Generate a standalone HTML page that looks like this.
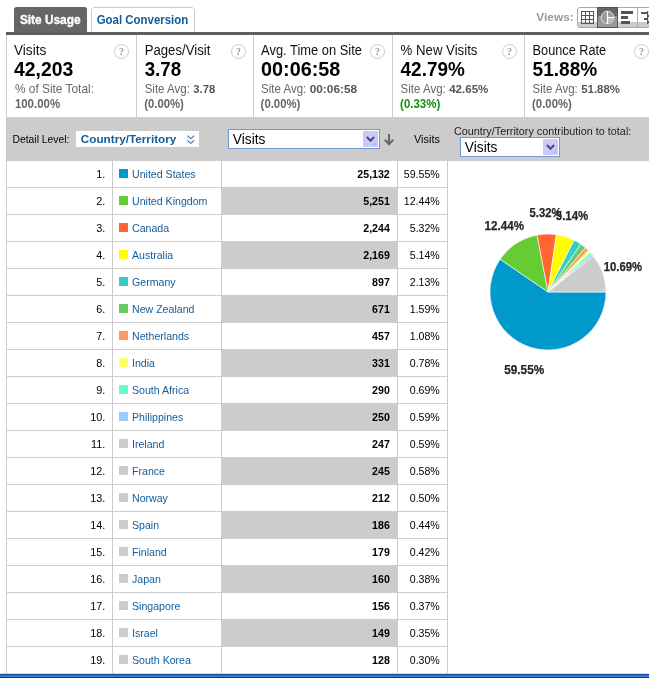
<!DOCTYPE html>
<html><head><meta charset="utf-8"><title>Site Usage</title>
<style>
html,body{margin:0;padding:0;background:#fff;width:649px;height:678px;overflow:hidden}
svg{display:block;font-family:'Liberation Sans', Arial, sans-serif;will-change:transform}
</style></head><body>
<svg width="649" height="678" viewBox="0 0 649 678">
<defs><linearGradient id="tb" x1="0" y1="0" x2="0" y2="1">
<stop offset="0" stop-color="#2457a8"/><stop offset="0.4" stop-color="#2a63c0"/><stop offset="0.7" stop-color="#3a8ae0"/><stop offset="1" stop-color="#1b3c78"/></linearGradient></defs>
<path d="M14,32 V9.5 Q14,7 16.5,7 H84.5 Q87,7 87,9.5 V32 Z" fill="#666666"/>
<path d="M91.5,32 V9.5 L93.5,7.5 H192.5 L194.5,9.5 V32" fill="#fff" stroke="#cccccc" stroke-width="1"/>
<text x="19.9" y="24" font-size="12.4" fill="#fff" font-weight="bold" textLength="60.6" lengthAdjust="spacingAndGlyphs" stroke="#fff" stroke-width="0.35">Site Usage</text>
<text x="96.7" y="24" font-size="12.2" fill="#125c9a" font-weight="bold" textLength="91.61" lengthAdjust="spacingAndGlyphs">Goal Conversion</text>
<text x="536.3" y="21" font-size="11.4" fill="#999999" font-weight="bold" textLength="37.4" lengthAdjust="spacingAndGlyphs">Views:</text>
<rect x="577.5" y="7.5" width="80" height="20" rx="2" fill="#fff" stroke="#aaaaaa"/>
<rect x="578" y="22" width="19" height="5" fill="#cccccc"/>
<rect x="618" y="22" width="19" height="5" fill="#cccccc"/>
<rect x="638" y="22" width="11" height="5" fill="#cccccc"/>
<g fill="none" stroke="#555" stroke-width="1">
<line x1="581.5" y1="11" x2="581.5" y2="24"/>
<line x1="581" y1="11.5" x2="594" y2="11.5"/>
<line x1="585.5" y1="11" x2="585.5" y2="24"/>
<line x1="581" y1="15.5" x2="594" y2="15.5"/>
<line x1="589.5" y1="11" x2="589.5" y2="24"/>
<line x1="581" y1="19.5" x2="594" y2="19.5"/>
<line x1="593.5" y1="11" x2="593.5" y2="24"/>
<line x1="581" y1="23.5" x2="594" y2="23.5"/>
</g>
<rect x="597" y="7" width="21" height="21" fill="#555555"/>
<rect x="598" y="8" width="19" height="8" fill="#666666"/>
<rect x="598" y="16" width="19" height="11" fill="#999999"/>
<circle cx="607.5" cy="17.5" r="6.3" fill="#999" stroke="#dddddd" stroke-width="1"/>
<path d="M607.5,17.5 H613.8 A6.3,6.3 0 0 1 607.5,23.8 Z" fill="#bbbbbb"/>
<path d="M607.5,11 V24 M607.5,17.5 H614" stroke="#fff" stroke-width="1.2"/>
<line x1="637.5" y1="8" x2="637.5" y2="27" stroke="#aaaaaa"/>
<rect x="621" y="11" width="12" height="3" fill="#555555"/>
<rect x="621" y="16" width="7" height="3" fill="#555555"/>
<rect x="621" y="21" width="9" height="3" fill="#555555"/>
<rect x="641" y="12" width="6" height="2" fill="#555555"/>
<rect x="644" y="18" width="3" height="2" fill="#555555"/>
<rect x="647" y="11" width="1.2" height="13" fill="#555555"/>
<rect x="648" y="15" width="1" height="2" fill="#555555"/>
<rect x="648" y="21" width="1" height="2" fill="#555555"/>
<rect x="6" y="32" width="643" height="3" fill="#5f5f5f"/>
<rect x="6" y="35" width="1" height="83" fill="#cccccc"/>
<rect x="136" y="35" width="1" height="82" fill="#cccccc"/>
<rect x="253" y="35" width="1" height="82" fill="#cccccc"/>
<rect x="392" y="35" width="1" height="82" fill="#cccccc"/>
<rect x="524" y="35" width="1" height="82" fill="#cccccc"/>
<rect x="6" y="117" width="643" height="1" fill="#cccccc"/>
<text x="14.0" y="55" font-size="13.8" fill="#111111" textLength="32.3" lengthAdjust="spacingAndGlyphs">Visits</text>
<text x="14.0" y="76" font-size="19.4" fill="#000" font-weight="bold" textLength="59.29" lengthAdjust="spacingAndGlyphs">42,203</text>
<text x="14.9" y="93" font-size="12.2" fill="#666666" textLength="79.1" lengthAdjust="spacingAndGlyphs">% of Site Total:</text>
<text x="14.9" y="108" font-size="12.5" fill="#666666" font-weight="bold" textLength="45.2" lengthAdjust="spacingAndGlyphs">100.00%</text>
<circle cx="121.5" cy="51.5" r="7" fill="#fff" stroke="#cccccc" stroke-width="1"/>
<text x="121.5" y="54.6" font-size="10" fill="#999999" font-weight="bold" text-anchor="middle" font-family="Liberation Serif, serif">?</text>
<text x="144.7" y="55" font-size="13.8" fill="#111111" textLength="65.61" lengthAdjust="spacingAndGlyphs">Pages/Visit</text>
<text x="144.7" y="76" font-size="19.4" fill="#000" font-weight="bold" textLength="36.41" lengthAdjust="spacingAndGlyphs">3.78</text>
<text x="144.7" y="93" font-size="12.2" fill="#666666" textLength="45.2" lengthAdjust="spacingAndGlyphs">Site Avg:</text>
<text x="193.3" y="93" font-size="11.5" fill="#555555" font-weight="bold" textLength="21.9" lengthAdjust="spacingAndGlyphs">3.78</text>
<text x="144.2" y="108" font-size="12.5" fill="#666666" font-weight="bold" textLength="39.61" lengthAdjust="spacingAndGlyphs">(0.00%)</text>
<circle cx="238.5" cy="51.5" r="7" fill="#fff" stroke="#cccccc" stroke-width="1"/>
<text x="238.5" y="54.6" font-size="10" fill="#999999" font-weight="bold" text-anchor="middle" font-family="Liberation Serif, serif">?</text>
<text x="261.1" y="55" font-size="13.8" fill="#111111" textLength="100.8" lengthAdjust="spacingAndGlyphs">Avg. Time on Site</text>
<text x="261.1" y="76" font-size="19.4" fill="#000" font-weight="bold" textLength="79.2" lengthAdjust="spacingAndGlyphs">00:06:58</text>
<text x="261.1" y="93" font-size="12.2" fill="#666666" textLength="45.2" lengthAdjust="spacingAndGlyphs">Site Avg:</text>
<text x="309.7" y="93" font-size="11.5" fill="#555555" font-weight="bold" textLength="47.4" lengthAdjust="spacingAndGlyphs">00:06:58</text>
<text x="260.6" y="108" font-size="12.5" fill="#666666" font-weight="bold" textLength="39.81" lengthAdjust="spacingAndGlyphs">(0.00%)</text>
<circle cx="377.5" cy="51.5" r="7" fill="#fff" stroke="#cccccc" stroke-width="1"/>
<text x="377.5" y="54.6" font-size="10" fill="#999999" font-weight="bold" text-anchor="middle" font-family="Liberation Serif, serif">?</text>
<text x="400.6" y="55" font-size="13.8" fill="#111111" textLength="76.81" lengthAdjust="spacingAndGlyphs">% New Visits</text>
<text x="400.6" y="76" font-size="19.4" fill="#000" font-weight="bold" textLength="64.19" lengthAdjust="spacingAndGlyphs">42.79%</text>
<text x="400.6" y="93" font-size="12.2" fill="#666666" textLength="45.2" lengthAdjust="spacingAndGlyphs">Site Avg:</text>
<text x="449.2" y="93" font-size="11.5" fill="#555555" font-weight="bold" textLength="39.2" lengthAdjust="spacingAndGlyphs">42.65%</text>
<text x="400.1" y="108" font-size="12.5" fill="#0b930b" font-weight="bold" textLength="40.11" lengthAdjust="spacingAndGlyphs">(0.33%)</text>
<circle cx="509.5" cy="51.5" r="7" fill="#fff" stroke="#cccccc" stroke-width="1"/>
<text x="509.5" y="54.6" font-size="10" fill="#999999" font-weight="bold" text-anchor="middle" font-family="Liberation Serif, serif">?</text>
<text x="532.6" y="55" font-size="13.8" fill="#111111" textLength="73.6" lengthAdjust="spacingAndGlyphs">Bounce Rate</text>
<text x="532.6" y="76" font-size="19.4" fill="#000" font-weight="bold" textLength="64.59" lengthAdjust="spacingAndGlyphs">51.88%</text>
<text x="532.6" y="93" font-size="12.2" fill="#666666" textLength="45.2" lengthAdjust="spacingAndGlyphs">Site Avg:</text>
<text x="581.2" y="93" font-size="11.5" fill="#555555" font-weight="bold" textLength="38.8" lengthAdjust="spacingAndGlyphs">51.88%</text>
<text x="532.1" y="108" font-size="12.5" fill="#666666" font-weight="bold" textLength="39.71" lengthAdjust="spacingAndGlyphs">(0.00%)</text>
<circle cx="641.5" cy="51.5" r="7" fill="#fff" stroke="#cccccc" stroke-width="1"/>
<text x="641.5" y="54.6" font-size="10" fill="#999999" font-weight="bold" text-anchor="middle" font-family="Liberation Serif, serif">?</text>
<rect x="6" y="118" width="643" height="43" fill="#cccccc"/>
<rect x="6" y="118" width="1" height="43" fill="#c4c4c4"/>
<text x="12.6" y="143" font-size="11" fill="#000" textLength="56.7" lengthAdjust="spacingAndGlyphs">Detail Level:</text>
<rect x="76" y="131" width="123" height="16" fill="#fff"/>
<text x="80.8" y="143" font-size="11.7" fill="#125c9a" font-weight="bold" textLength="95.5" lengthAdjust="spacingAndGlyphs">Country/Territory</text>
<path d="M187.3,135.6 L190.8,138.6 L194.3,135.6 M187.3,140.4 L190.8,143.4 L194.3,140.4" stroke="#2f6fae" stroke-width="1.1" fill="none"/>
<rect x="228.5" y="129.5" width="151" height="19" fill="#fff" stroke="#6f9bd4"/>
<rect x="363" y="131" width="15" height="16" fill="#c9cafa" rx="1"/>
<path d="M372,145 h4 v-3 z" fill="#9cc4f8"/>
<path d="M366.9,137.0 L370.5,140.7 L374.1,137.0" stroke="#4a4c7c" stroke-width="2" fill="none"/>
<text x="232.8" y="144" font-size="14" fill="#000" textLength="32.6" lengthAdjust="spacingAndGlyphs">Visits</text>
<path d="M389,134 V144 M384.8,139.8 L389,144.3 L393.2,139.8" stroke="#666" stroke-width="2" fill="none"/>
<text x="414.0" y="143" font-size="11" fill="#000" textLength="26.0" lengthAdjust="spacingAndGlyphs">Visits</text>
<text x="453.9" y="135" font-size="10.8" fill="#222" textLength="177.4" lengthAdjust="spacingAndGlyphs">Country/Territory contribution to total:</text>
<rect x="460.5" y="137.5" width="99" height="19" fill="#fff" stroke="#6f9bd4"/>
<rect x="543" y="139" width="15" height="16" fill="#c9cafa" rx="1"/>
<path d="M552,153 h4 v-3 z" fill="#9cc4f8"/>
<path d="M546.9,145.0 L550.5,148.7 L554.1,145.0" stroke="#4a4c7c" stroke-width="2" fill="none"/>
<text x="464.8" y="152" font-size="14" fill="#000" textLength="32.6" lengthAdjust="spacingAndGlyphs">Visits</text>
<rect x="6" y="161" width="1" height="512" fill="#cccccc"/>
<rect x="112" y="161" width="1" height="512" fill="#cccccc"/>
<rect x="221" y="161" width="1" height="512" fill="#cccccc"/>
<rect x="397" y="161" width="1" height="512" fill="#cccccc"/>
<rect x="447" y="161" width="1" height="512" fill="#cccccc"/>
<rect x="6" y="187" width="442" height="1" fill="#cccccc"/>
<text x="96.29" y="178" font-size="10.8" fill="#000">1.</text>
<rect x="119" y="169" width="9" height="9" fill="#0099cc"/>
<text x="132.0" y="178" font-size="10.6" fill="#125c9a">United States</text>
<text x="357.37" y="178" font-size="10.6" fill="#000" font-weight="bold">25,132</text>
<text x="403.84" y="178" font-size="10.6" fill="#000">59.55%</text>
<rect x="222" y="188" width="175" height="27" fill="#cccccc"/>
<rect x="6" y="214" width="442" height="1" fill="#cccccc"/>
<text x="96.29" y="205" font-size="10.8" fill="#000">2.</text>
<rect x="119" y="196" width="9" height="9" fill="#66cc33"/>
<text x="132.0" y="205" font-size="10.6" fill="#125c9a">United Kingdom</text>
<text x="363.28" y="205" font-size="10.6" fill="#000" font-weight="bold">5,251</text>
<text x="403.84" y="205" font-size="10.6" fill="#000">12.44%</text>
<rect x="6" y="241" width="442" height="1" fill="#cccccc"/>
<text x="96.29" y="232" font-size="10.8" fill="#000">3.</text>
<rect x="119" y="223" width="9" height="9" fill="#ff6633"/>
<text x="132.0" y="232" font-size="10.6" fill="#125c9a">Canada</text>
<text x="363.28" y="232" font-size="10.6" fill="#000" font-weight="bold">2,244</text>
<text x="409.75" y="232" font-size="10.6" fill="#000">5.32%</text>
<rect x="222" y="242" width="175" height="27" fill="#cccccc"/>
<rect x="6" y="268" width="442" height="1" fill="#cccccc"/>
<text x="96.29" y="259" font-size="10.8" fill="#000">4.</text>
<rect x="119" y="250" width="9" height="9" fill="#ffff00"/>
<text x="132.0" y="259" font-size="10.6" fill="#125c9a">Australia</text>
<text x="363.28" y="259" font-size="10.6" fill="#000" font-weight="bold">2,169</text>
<text x="409.75" y="259" font-size="10.6" fill="#000">5.14%</text>
<rect x="6" y="295" width="442" height="1" fill="#cccccc"/>
<text x="96.29" y="286" font-size="10.8" fill="#000">5.</text>
<rect x="119" y="277" width="9" height="9" fill="#33cccc"/>
<text x="132.0" y="286" font-size="10.6" fill="#125c9a">Germany</text>
<text x="372.12" y="286" font-size="10.6" fill="#000" font-weight="bold">897</text>
<text x="409.75" y="286" font-size="10.6" fill="#000">2.13%</text>
<rect x="222" y="296" width="175" height="27" fill="#cccccc"/>
<rect x="6" y="322" width="442" height="1" fill="#cccccc"/>
<text x="96.29" y="313" font-size="10.8" fill="#000">6.</text>
<rect x="119" y="304" width="9" height="9" fill="#66cc66"/>
<text x="132.0" y="313" font-size="10.6" fill="#125c9a">New Zealand</text>
<text x="372.12" y="313" font-size="10.6" fill="#000" font-weight="bold">671</text>
<text x="409.75" y="313" font-size="10.6" fill="#000">1.59%</text>
<rect x="6" y="349" width="442" height="1" fill="#cccccc"/>
<text x="96.29" y="340" font-size="10.8" fill="#000">7.</text>
<rect x="119" y="331" width="9" height="9" fill="#ff9966"/>
<text x="132.0" y="340" font-size="10.6" fill="#125c9a">Netherlands</text>
<text x="372.12" y="340" font-size="10.6" fill="#000" font-weight="bold">457</text>
<text x="409.75" y="340" font-size="10.6" fill="#000">1.08%</text>
<rect x="222" y="350" width="175" height="27" fill="#cccccc"/>
<rect x="6" y="376" width="442" height="1" fill="#cccccc"/>
<text x="96.29" y="367" font-size="10.8" fill="#000">8.</text>
<rect x="119" y="358" width="9" height="9" fill="#ffff66"/>
<text x="132.0" y="367" font-size="10.6" fill="#125c9a">India</text>
<text x="372.12" y="367" font-size="10.6" fill="#000" font-weight="bold">331</text>
<text x="409.75" y="367" font-size="10.6" fill="#000">0.78%</text>
<rect x="6" y="403" width="442" height="1" fill="#cccccc"/>
<text x="96.29" y="394" font-size="10.8" fill="#000">9.</text>
<rect x="119" y="385" width="9" height="9" fill="#66ffcc"/>
<text x="132.0" y="394" font-size="10.6" fill="#125c9a">South Africa</text>
<text x="372.12" y="394" font-size="10.6" fill="#000" font-weight="bold">290</text>
<text x="409.75" y="394" font-size="10.6" fill="#000">0.69%</text>
<rect x="222" y="404" width="175" height="27" fill="#cccccc"/>
<rect x="6" y="430" width="442" height="1" fill="#cccccc"/>
<text x="90.29" y="421" font-size="10.8" fill="#000">10.</text>
<rect x="119" y="412" width="9" height="9" fill="#99ccff"/>
<text x="132.0" y="421" font-size="10.6" fill="#125c9a">Philippines</text>
<text x="372.12" y="421" font-size="10.6" fill="#000" font-weight="bold">250</text>
<text x="409.75" y="421" font-size="10.6" fill="#000">0.59%</text>
<rect x="6" y="457" width="442" height="1" fill="#cccccc"/>
<text x="91.09" y="448" font-size="10.8" fill="#000">11.</text>
<rect x="119" y="439" width="9" height="9" fill="#cccccc"/>
<text x="132.0" y="448" font-size="10.6" fill="#125c9a">Ireland</text>
<text x="372.12" y="448" font-size="10.6" fill="#000" font-weight="bold">247</text>
<text x="409.75" y="448" font-size="10.6" fill="#000">0.59%</text>
<rect x="222" y="458" width="175" height="27" fill="#cccccc"/>
<rect x="6" y="484" width="442" height="1" fill="#cccccc"/>
<text x="90.29" y="475" font-size="10.8" fill="#000">12.</text>
<rect x="119" y="466" width="9" height="9" fill="#cccccc"/>
<text x="132.0" y="475" font-size="10.6" fill="#125c9a">France</text>
<text x="372.12" y="475" font-size="10.6" fill="#000" font-weight="bold">245</text>
<text x="409.75" y="475" font-size="10.6" fill="#000">0.58%</text>
<rect x="6" y="511" width="442" height="1" fill="#cccccc"/>
<text x="90.29" y="502" font-size="10.8" fill="#000">13.</text>
<rect x="119" y="493" width="9" height="9" fill="#cccccc"/>
<text x="132.0" y="502" font-size="10.6" fill="#125c9a">Norway</text>
<text x="372.12" y="502" font-size="10.6" fill="#000" font-weight="bold">212</text>
<text x="409.75" y="502" font-size="10.6" fill="#000">0.50%</text>
<rect x="222" y="512" width="175" height="27" fill="#cccccc"/>
<rect x="6" y="538" width="442" height="1" fill="#cccccc"/>
<text x="90.29" y="529" font-size="10.8" fill="#000">14.</text>
<rect x="119" y="520" width="9" height="9" fill="#cccccc"/>
<text x="132.0" y="529" font-size="10.6" fill="#125c9a">Spain</text>
<text x="372.12" y="529" font-size="10.6" fill="#000" font-weight="bold">186</text>
<text x="409.75" y="529" font-size="10.6" fill="#000">0.44%</text>
<rect x="6" y="565" width="442" height="1" fill="#cccccc"/>
<text x="90.29" y="556" font-size="10.8" fill="#000">15.</text>
<rect x="119" y="547" width="9" height="9" fill="#cccccc"/>
<text x="132.0" y="556" font-size="10.6" fill="#125c9a">Finland</text>
<text x="372.12" y="556" font-size="10.6" fill="#000" font-weight="bold">179</text>
<text x="409.75" y="556" font-size="10.6" fill="#000">0.42%</text>
<rect x="222" y="566" width="175" height="27" fill="#cccccc"/>
<rect x="6" y="592" width="442" height="1" fill="#cccccc"/>
<text x="90.29" y="583" font-size="10.8" fill="#000">16.</text>
<rect x="119" y="574" width="9" height="9" fill="#cccccc"/>
<text x="132.0" y="583" font-size="10.6" fill="#125c9a">Japan</text>
<text x="372.12" y="583" font-size="10.6" fill="#000" font-weight="bold">160</text>
<text x="409.75" y="583" font-size="10.6" fill="#000">0.38%</text>
<rect x="6" y="619" width="442" height="1" fill="#cccccc"/>
<text x="90.29" y="610" font-size="10.8" fill="#000">17.</text>
<rect x="119" y="601" width="9" height="9" fill="#cccccc"/>
<text x="132.0" y="610" font-size="10.6" fill="#125c9a">Singapore</text>
<text x="372.12" y="610" font-size="10.6" fill="#000" font-weight="bold">156</text>
<text x="409.75" y="610" font-size="10.6" fill="#000">0.37%</text>
<rect x="222" y="620" width="175" height="27" fill="#cccccc"/>
<rect x="6" y="646" width="442" height="1" fill="#cccccc"/>
<text x="90.29" y="637" font-size="10.8" fill="#000">18.</text>
<rect x="119" y="628" width="9" height="9" fill="#cccccc"/>
<text x="132.0" y="637" font-size="10.6" fill="#125c9a">Israel</text>
<text x="372.12" y="637" font-size="10.6" fill="#000" font-weight="bold">149</text>
<text x="409.75" y="637" font-size="10.6" fill="#000">0.35%</text>
<rect x="6" y="673" width="442" height="1" fill="#cccccc"/>
<text x="90.29" y="664" font-size="10.8" fill="#000">19.</text>
<rect x="119" y="655" width="9" height="9" fill="#cccccc"/>
<text x="132.0" y="664" font-size="10.6" fill="#125c9a">South Korea</text>
<text x="372.12" y="664" font-size="10.6" fill="#000" font-weight="bold">128</text>
<text x="409.75" y="664" font-size="10.6" fill="#000">0.30%</text>
<path d="M548,292 L606.00,292.00 A58,58 0 1 1 500.13,259.25 Z" fill="#0099cc" stroke="#fff" stroke-width="0.6" stroke-linejoin="round"/>
<path d="M548,292 L500.13,259.25 A58,58 0 0 1 537.10,235.03 Z" fill="#66cc33" stroke="#fff" stroke-width="0.6" stroke-linejoin="round"/>
<path d="M548,292 L537.10,235.03 A58,58 0 0 1 556.39,234.61 Z" fill="#ff6633" stroke="#fff" stroke-width="0.6" stroke-linejoin="round"/>
<path d="M548,292 L556.39,234.61 A58,58 0 0 1 574.17,240.24 Z" fill="#ffff00" stroke="#fff" stroke-width="0.6" stroke-linejoin="round"/>
<path d="M548,292 L574.17,240.24 A58,58 0 0 1 580.84,244.19 Z" fill="#33cccc" stroke="#fff" stroke-width="0.6" stroke-linejoin="round"/>
<path d="M548,292 L580.84,244.19 A58,58 0 0 1 585.45,247.71 Z" fill="#66cc66" stroke="#fff" stroke-width="0.6" stroke-linejoin="round"/>
<path d="M548,292 L585.45,247.71 A58,58 0 0 1 588.36,250.35 Z" fill="#ff9966" stroke="#fff" stroke-width="0.6" stroke-linejoin="round"/>
<path d="M548,292 L588.36,250.35 A58,58 0 0 1 590.35,252.38 Z" fill="#ffff66" stroke="#fff" stroke-width="0.6" stroke-linejoin="round"/>
<path d="M548,292 L590.35,252.38 A58,58 0 0 1 592.03,254.25 Z" fill="#66ffcc" stroke="#fff" stroke-width="0.6" stroke-linejoin="round"/>
<path d="M548,292 L592.03,254.25 A58,58 0 0 1 593.40,255.91 Z" fill="#99ccff" stroke="#fff" stroke-width="0.6" stroke-linejoin="round"/>
<path d="M548,292 L593.40,255.91 A58,58 0 0 1 606.00,292.00 Z" fill="#cccccc" stroke="#fff" stroke-width="0.6" stroke-linejoin="round"/>
<text x="484.6" y="230" font-size="12.2" fill="#262626" font-weight="bold" textLength="39.4" lengthAdjust="spacingAndGlyphs" stroke="#262626" stroke-width="0.25">12.44%</text>
<text x="529.6" y="217" font-size="12.2" fill="#262626" font-weight="bold" textLength="31.81" lengthAdjust="spacingAndGlyphs" stroke="#262626" stroke-width="0.25">5.32%</text>
<text x="555.8" y="220" font-size="12.2" fill="#262626" font-weight="bold" textLength="32.41" lengthAdjust="spacingAndGlyphs" stroke="#262626" stroke-width="0.25">5.14%</text>
<text x="603.7" y="271" font-size="12.2" fill="#262626" font-weight="bold" textLength="38.3" lengthAdjust="spacingAndGlyphs" stroke="#262626" stroke-width="0.25">10.69%</text>
<text x="504.2" y="373.5" font-size="12.2" fill="#262626" font-weight="bold" textLength="40.0" lengthAdjust="spacingAndGlyphs" stroke="#262626" stroke-width="0.25">59.55%</text>
<rect x="0" y="673" width="649" height="1" fill="#d8d4cc"/>
<rect x="0" y="674" width="649" height="1" fill="#22519c"/>
<rect x="0" y="675" width="649" height="1" fill="#2a66c6"/>
<rect x="0" y="676" width="649" height="1" fill="#3b8de0"/>
<rect x="0" y="677" width="649" height="1" fill="#2b2f36"/>
</svg>
</body></html>
